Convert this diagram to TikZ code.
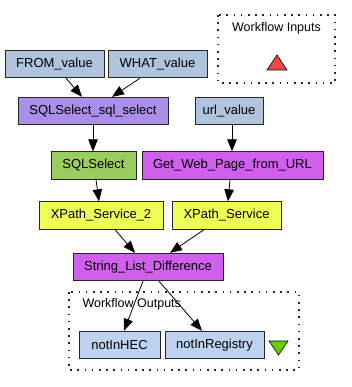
\documentclass[tikz,border=0pt]{standalone}
\usepackage{fontspec}
\setmainfont{Liberation Sans}
\usetikzlibrary{arrows.meta}

\definecolor{portblue}{HTML}{B0C4DE}
\definecolor{outblue}{HTML}{BCD2EE}
\definecolor{sqlpurple}{HTML}{A98FE8}
\definecolor{sqlgreen}{HTML}{9ACD5F}
\definecolor{wsorchid}{HTML}{D15FEE}
\definecolor{xpyellow}{HTML}{EEFF55}
\definecolor{inred}{HTML}{F04848}
\definecolor{outgreen}{HTML}{66CD00}

\tikzset{
    proc/.style={draw=black!85, line width=0.8pt, rectangle, inner sep=0pt,
        minimum height=27.5pt, font=\fontsize{13}{15}\selectfont},
    cluster/.style={draw=black!85, line width=1.1pt, dash pattern=on 1.6pt off 5.6pt},
    flow/.style={-{Triangle[length=12pt,width=9.5pt]}, line width=0.8pt},
}

\begin{document}
\begin{tikzpicture}[x=1pt, y=-1pt]
        \useasboundingbox (0,0) rectangle (352,387);

        % Workflow inputs
        \draw[cluster] (218,15) rectangle (335,83);
        \node[font=\fontsize{12.5}{14}\selectfont] (inlabel) at (276.5,28) {Workflow Inputs};
        \draw[fill=inred, line width=0.6pt] (267,70) -- (287,70) -- (277,55) -- cycle;

        % Workflow outputs
        \draw[cluster] (69,292) rectangle (299,370);
        \node[anchor=west, font=\fontsize{12.5}{14}\selectfont] (outlabel) at (79,304) {Workflow Outputs};
        \draw[fill=outgreen, line width=0.6pt] (269,341) -- (288,341) -- (278.5,355) -- cycle;

        % Processors
        \node[proc, fill=portblue, minimum width=99pt] (from) at (54.5,64) {FROM\_value};
        \node[proc, fill=portblue, minimum width=99pt] (what) at (157.5,64) {WHAT\_value};
        \node[proc, fill=sqlpurple, minimum width=150pt] (sqlsel) at (93,111) {SQLSelect\_sql\_select};
        \node[proc, fill=portblue, minimum width=68pt] (url) at (229,111) {url\_value};
        \node[proc, fill=sqlgreen, minimum width=85pt] (sql) at (93.5,165.5) {SQLSelect};
        \node[proc, fill=wsorchid, minimum width=181pt] (getweb) at (232.5,165.5) {Get\_Web\_Page\_from\_URL};
        \node[proc, fill=xpyellow, minimum width=124pt] (xpath2) at (101,215.5) {XPath\_Service\_2};
        \node[proc, fill=xpyellow, minimum width=109pt] (xpath) at (226.5,215.5) {XPath\_Service};
        \node[proc, fill=wsorchid, minimum width=150pt] (diff) at (148,267) {String\_List\_Difference};
        \node[proc, fill=outblue, minimum width=81pt] (hec) at (119.5,345) {notInHEC};
        \node[proc, fill=outblue, minimum width=99pt] (reg) at (214.5,345) {notInRegistry};

        % Data links
        \draw[flow] ([xshift=11.5pt]from.south) -- ([xshift=-11pt]sqlsel.north);
        \draw[flow] ([xshift=-17.5pt]what.south) -- ([xshift=19pt]sqlsel.north);
        \draw[flow] (sqlsel.south) -- (sql.north -| sqlsel.south);
        \draw[flow] ([xshift=3pt]url.south) -- ([xshift=-0.5pt]getweb.north);
        \draw[flow] ([xshift=2.5pt]sql.south) -- ([xshift=-2pt]xpath2.north);
        \draw[flow] ([xshift=-2.5pt]getweb.south) -- ([xshift=1.5pt]xpath.north);
        \draw[flow] ([xshift=14pt]xpath2.south) -- ([xshift=-13pt]diff.north);
        \draw[flow] ([xshift=-22.5pt]xpath.south) -- ([xshift=22pt]diff.north);
        \draw[flow] ([xshift=-5pt]diff.south) -- ([xshift=4.5pt]hec.north);
        \draw[flow] ([xshift=11pt]diff.south) -- ([xshift=-12.5pt]reg.north);
    \end{tikzpicture}
\end{document}
